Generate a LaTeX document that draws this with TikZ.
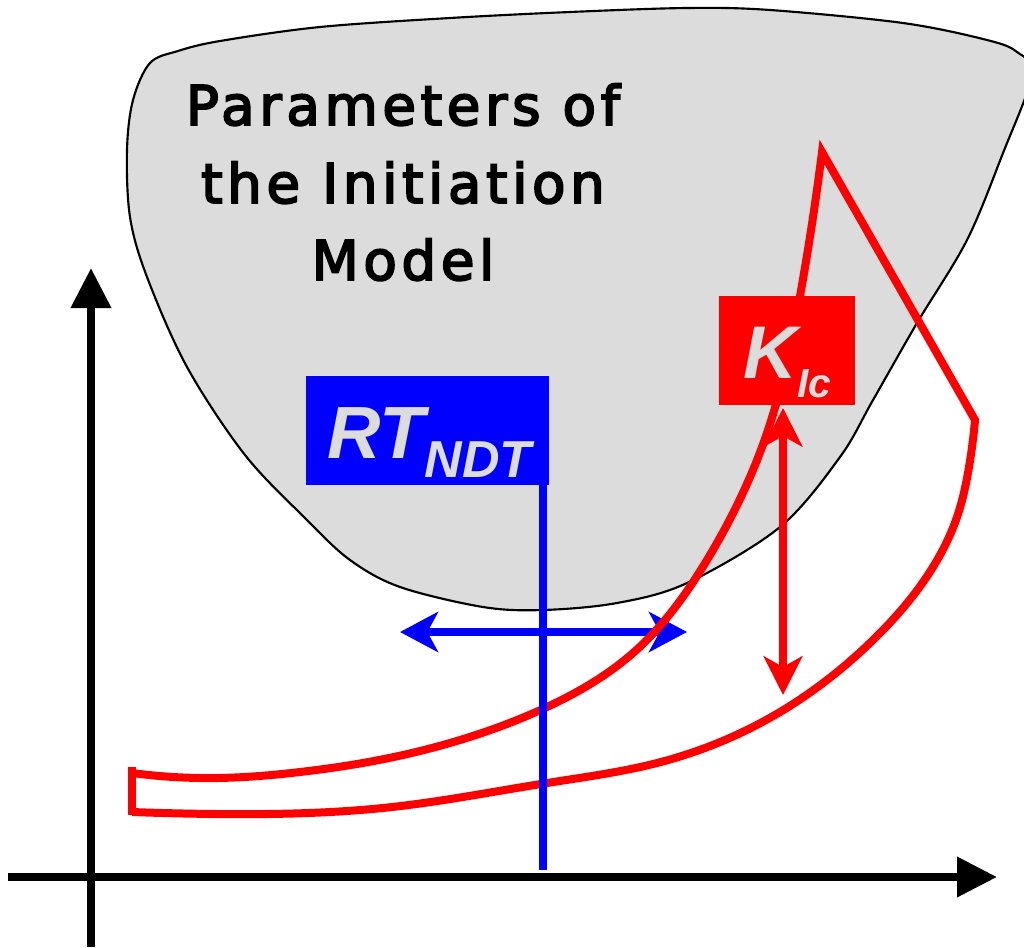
\documentclass[tikz,border=0pt]{standalone}
\usepackage{fontspec}
\setmainfont{Liberation Sans}
\newfontfamily\titlefont[LetterSpace=8.5,FakeBold=3.5]{DejaVu Sans}
\usetikzlibrary{arrows.meta,hobby}
\definecolor{blobgray}{HTML}{DCDCDC}
\definecolor{myred}{HTML}{FF0000}
\definecolor{myblue}{HTML}{0000FF}
\tikzset{
  axisline/.style={line width=6pt, -{Triangle[length=30pt,width=29pt]}},
  redline/.style={myred, line width=6pt, line join=miter},
  bluearrow/.style={myblue, line width=6pt, {Stealth[length=28.5pt,width=30pt,inset=8pt]}-{Stealth[length=28.5pt,width=30pt,inset=8pt]}},
  redarrow/.style={myred, line width=5.8pt, {Stealth[length=29pt,width=29pt,inset=8pt]}-{Stealth[length=29pt,width=29pt,inset=8pt]}},
  titletext/.style={anchor=base, font=\titlefont\fontsize{41}{48}\selectfont},
}
\begin{document}
\begin{tikzpicture}[x=0.75pt,y=-0.75pt]
\useasboundingbox (0,0) rectangle (1024,947);
\clip (0,0) rectangle (1024,947);
% blob
\draw[fill=blobgray, line width=1.6pt] plot[smooth cycle, tension=0.55] coordinates {
 (150,63) (178,51) (220,41) (320,27) (450,18) (570,12) (687,8) (770,10) (903,23) (987,40) (1017,52) (1032,75)
 (1003,153) (967,240) (917,323) (873,400) (840,457) (780,527) (687,583) (617,603) (543,610) (483,607) (400,587) (350,560) (307,520) (245,455) (187,367) (147,277) (130,217) (127,150) (133,100)};
% title
\node[titletext] (t1) at (403,125) {Parameters of};
\node[titletext] (t2) at (403,203) {the Initiation};
\node[titletext] (t3) at (403,280) {Model};
% axes
\coordinate (ox) at (8,877);
\coordinate (xe) at (997,877);
\coordinate (oy) at (91,947);
\coordinate (ye) at (91,268);
\draw[axisline] (oy) -- (ye);
\draw[axisline] (ox) -- (xe);
% blue double arrow
\coordinate (bl) at (400,632);
\coordinate (br) at (687,632);
\draw[bluearrow] (bl) -- (br);
% red curve
\draw[myred, line width=5.5pt] (132,767) -- (132,815);
\draw[redline] (132,773) to[curve through={(217,778) (300,772) (379,760) (460,740) (547,707) (633,653) (707,560) (767,433) (800,296)}] (822,152)
 -- (975,420)
 to[curve through={(969,467) (957,517) (933,567) (873,640) (780,712) (657,763) (547,783) (392,807) (217,814)}] (132,812);
% boxes
\node[fill=myblue, inner sep=0pt, minimum width=182.25pt, minimum height=81.75pt] (rt) at (427.5,430.5) {};
\node[anchor=base west, inner sep=0pt, text=blobgray, font=\bfseries\itshape] (rtl) at (327,458)
  {\fontsize{55.5}{60}\selectfont RT\raisebox{-14.25pt}{\fontsize{39}{42}\selectfont NDT}};
\node[fill=myred, inner sep=0pt, minimum width=102pt, minimum height=81.75pt] (kic) at (787,350.5) {};
\node[anchor=base west, inner sep=0pt, text=blobgray, font=\bfseries\itshape] (kl) at (743,378)
  {\fontsize{56}{60}\selectfont K\raisebox{-14.25pt}{\fontsize{30.5}{34}\selectfont Ic}};
% blue vertical line
\coordinate (bb) at (543,870);
\draw[myblue, line width=5.5pt] (rt.south east -| bb) -- (bb);
% red vertical double arrow
\coordinate (kd) at (783,695);
\draw[redarrow] ([yshift=-2pt]kd |- kic.south) -- (kd);
\end{tikzpicture}
\end{document}
